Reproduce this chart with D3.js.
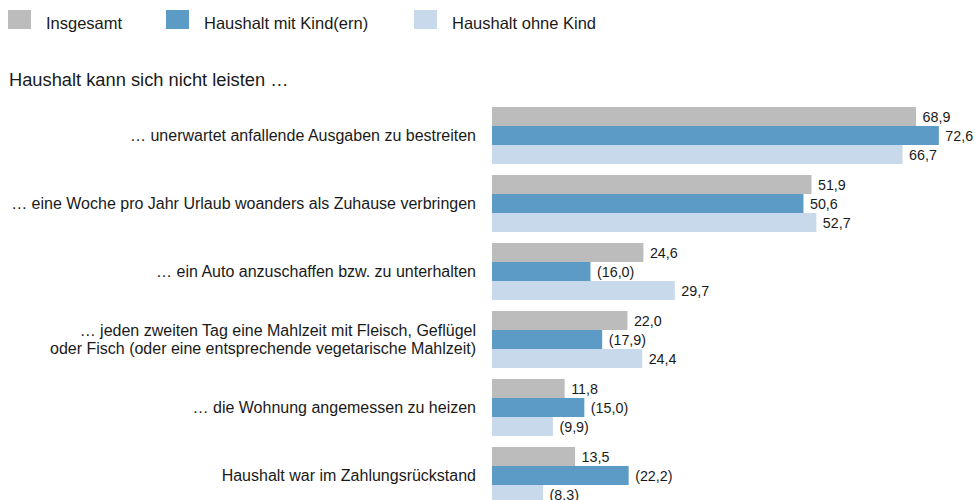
<!DOCTYPE html>
<html>
<head>
<meta charset="utf-8">
<script src="https://cdn.jsdelivr.net/npm/d3@7"></script>
<style>
  body { margin: 0; background: #fff; }
  svg { font-family: "Liberation Sans", Arial, sans-serif; }
</style>
</head>
<body>
<div id="chart"></div>
<script>
// data
var categories = [
  ["… unerwartet anfallende Ausgaben zu bestreiten"],
  ["… eine Woche pro Jahr Urlaub woanders als Zuhause verbringen"],
  ["… ein Auto anzuschaffen bzw. zu unterhalten"],
  ["… jeden zweiten Tag eine Mahlzeit mit Fleisch, Geflügel", "oder Fisch (oder eine entsprechende vegetarische Mahlzeit)"],
  ["… die Wohnung angemessen zu heizen"],
  ["Haushalt war im Zahlungsrückstand"]
];
var seriesNames = ["Insgesamt", "Haushalt mit Kind(ern)", "Haushalt ohne Kind"];
var seriesColors = ["#bcbcbc", "#5b9bc6", "#c9d9ec"];
var insgesamt = [68.9, 51.9, 24.6, 22.0, 11.8, 13.5];
var mitKind   = [72.6, 50.6, 16.0, 17.9, 15.0, 22.2];
var ohneKind  = [66.7, 52.7, 29.7, 24.4, 9.9, 8.3];
// values shown in brackets (low reliability)
var mitKindUnsure  = [false, false, true, true, true, true];
var ohneKindUnsure = [false, false, false, false, true, true];
var title = "Haushalt kann sich nicht leisten …";

var values = [insgesamt, mitKind, ohneKind];
var unsure = [[false,false,false,false,false,false], mitKindUnsure, ohneKindUnsure];

var svgWidth = 977, svgHeight = 500;

var svg = d3.select("#chart").append("svg")
    .attr("width", svgWidth)
    .attr("height", svgHeight);

var catIdx = d3.range(categories.length);

var y0 = d3.scaleBand()
    .domain(catIdx)
    .range([107, 504])
    .paddingInner(11/68)
    .paddingOuter(0);

var y1 = d3.scaleBand()
    .domain(d3.range(seriesNames.length))
    .range([0, y0.bandwidth()]);

var x = d3.scaleLinear()
    .domain([0, 100])
    .range([492, 492 + 615.5]);

var fmt = function(v, u){
    var s = d3.format(".1f")(v).replace(".", ",");
    return u ? "(" + s + ")" : s;
};

// legend
var legendX = [8, 166, 414];
var legend = svg.selectAll("g.legend")
    .data(seriesNames)
    .enter().append("g")
    .attr("class", "legend")
    .attr("transform", function(d, i){ return "translate(" + legendX[i] + ",10)"; });
legend.append("rect")
    .attr("width", 23).attr("height", 19)
    .attr("fill", function(d, i){ return seriesColors[i]; });
legend.append("text")
    .attr("x", 38).attr("y", 19)
    .attr("font-size", 16.5)
    .attr("fill", "#1a1a1a")
    .text(function(d){ return d; });

// title
svg.append("text")
    .attr("x", 9).attr("y", 86)
    .attr("font-size", 18.3)
    .attr("fill", "#1a1a1a")
    .text(title);

// groups
var groups = svg.selectAll("g.group")
    .data(catIdx)
    .enter().append("g")
    .attr("class", "group")
    .attr("transform", function(i){ return "translate(0," + y0(i) + ")"; });

groups.each(function(ci){
    var g = d3.select(this);
    var lines = categories[ci];
    var mid = y0.bandwidth() / 2;
    lines.forEach(function(line, li){
        g.append("text")
            .attr("x", 476)
            .attr("y", mid + (li - (lines.length - 1) / 2) * 18)
            .attr("dy", "0.35em")
            .attr("text-anchor", "end")
            .attr("font-size", 16)
            .attr("fill", "#1a1a1a")
            .text(line);
    });

    seriesNames.forEach(function(s, si){
        var v = values[si][ci];
        g.append("rect")
            .attr("x", x(0))
            .attr("y", y1(si))
            .attr("width", x(v) - x(0))
            .attr("height", y1.bandwidth())
            .attr("fill", seriesColors[si]);
        g.append("text")
            .attr("x", x(v) + 6.5)
            .attr("y", y1(si) + y1.bandwidth() / 2)
            .attr("dy", "0.35em")
            .attr("font-size", 14.3)
            .attr("fill", "#1a1a1a")
            .text(fmt(v, unsure[si][ci]));
    });
});
</script>
</body>
</html>
